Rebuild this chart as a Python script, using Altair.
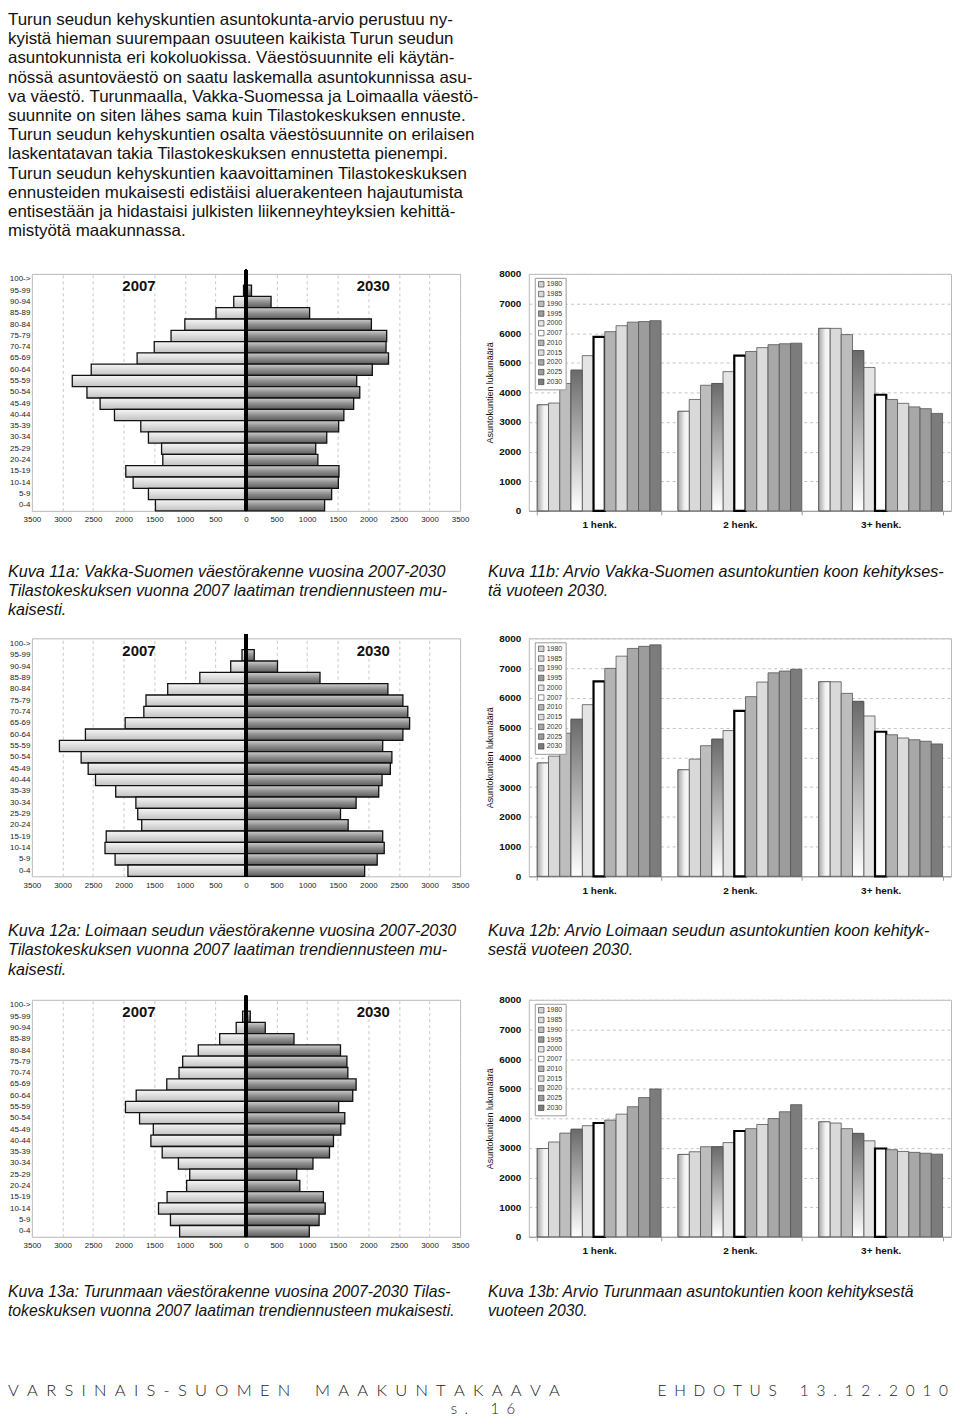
import altair as alt
import pandas as pd

# ---------------- data ----------------
ages = ["100->", "95-99", "90-94", "85-89", "80-84", "75-79", "70-74", "65-69",
        "60-64", "55-59", "50-54", "45-49", "40-44", "35-39", "30-34", "25-29",
        "20-24", "15-19", "10-14", "5-9", "0-4"]

vakka_2007 = [10, 40, 200, 490, 1000, 1225, 1500, 1780, 2530, 2840, 2600, 2385,
              2150, 1720, 1595, 1380, 1360, 1965, 1845, 1595, 1480]
vakka_2030 = [10, 90, 410, 1040, 2050, 2300, 2290, 2330, 2065, 1810, 1860, 1760,
              1600, 1515, 1320, 1140, 1175, 1520, 1510, 1400, 1285]

loimaa_2007 = [10, 65, 250, 755, 1280, 1635, 1670, 1975, 2625, 3050, 2695, 2580,
               2460, 2130, 1800, 1770, 1705, 2285, 2305, 2140, 1930]
loimaa_2030 = [10, 135, 515, 1210, 2320, 2565, 2645, 2675, 2565, 2235, 2385, 2360,
               2225, 2170, 1800, 1545, 1670, 2235, 2260, 2145, 1940]

turunmaa_2007 = [10, 55, 160, 430, 780, 1035, 1095, 1295, 1795, 1970, 1740, 1515,
                 1555, 1370, 1105, 920, 970, 1290, 1430, 1235, 1085]
turunmaa_2030 = [10, 70, 315, 785, 1545, 1650, 1665, 1800, 1745, 1515, 1615, 1550,
                 1430, 1365, 1095, 830, 880, 1265, 1295, 1195, 1035]

years = ["1980", "1985", "1990", "1995", "2000", "2007", "2010", "2015", "2020", "2025", "2030"]
sizes = ["1 henk.", "2 henk.", "3+ henk."]

vakka_1 = [3580, 3640, 4300, 4750, 5240, 5870, 6050, 6250, 6370, 6390, 6420]
vakka_2 = [3360, 3760, 4240, 4300, 4700, 5240, 5380, 5510, 5610, 5640, 5660]
vakka_3 = [6160, 6160, 5950, 5410, 4840, 3920, 3760, 3630, 3510, 3450, 3290]

loimaa_1 = [3810, 4040, 4810, 5280, 5770, 6550, 6990, 7400, 7660, 7730, 7780]
loimaa_2 = [3580, 3940, 4390, 4610, 4900, 5560, 6040, 6530, 6840, 6900, 6960]
loimaa_3 = [6540, 6540, 6150, 5880, 5390, 4860, 4760, 4650, 4590, 4540, 4450]

turunmaa_1 = [2980, 3200, 3500, 3630, 3750, 3840, 3940, 4140, 4390, 4700, 4990]
turunmaa_2 = [2780, 2870, 3040, 3040, 3180, 3570, 3650, 3790, 3990, 4220, 4460]
turunmaa_3 = [3880, 3840, 3650, 3490, 3240, 2980, 2940, 2880, 2850, 2820, 2790]

year_colors = ["#d2d2d2", "#d9d9d9", "#bdbdbd", "#9a9a9a", "#e4e4e4", "#ffffff",
               "#b3b3b3", "#dcdcdc", "#a8a8a8", "#9c9c9c", "#7c7c7c"]

paragraph = [
    "Turun seudun kehyskuntien asuntokunta-arvio perustuu ny-",
    "kyistä hieman suurempaan osuuteen kaikista Turun seudun",
    "asuntokunnista eri kokoluokissa. Väestösuunnite eli käytän-",
    "nössä asuntoväestö on saatu laskemalla asuntokunnissa asu-",
    "va väestö. Turunmaalla, Vakka-Suomessa ja Loimaalla väestö-",
    "suunnite on siten lähes sama kuin Tilastokeskuksen ennuste.",
    "Turun seudun kehyskuntien osalta väestösuunnite on erilaisen",
    "laskentatavan takia Tilastokeskuksen ennustetta pienempi.",
    "Turun seudun kehyskuntien kaavoittaminen Tilastokeskuksen",
    "ennusteiden mukaisesti edistäisi aluerakenteen hajautumista",
    "entisestään ja hidastaisi julkisten liikenneyhteyksien kehittä-",
    "mistyötä maakunnassa.",
]
cap11a = ["Kuva 11a: Vakka-Suomen väestörakenne vuosina 2007-2030",
          "Tilastokeskuksen vuonna 2007 laatiman trendiennusteen mu-",
          "kaisesti."]
cap11b = ["Kuva 11b: Arvio Vakka-Suomen asuntokuntien koon kehitykses-",
          "tä vuoteen 2030."]
cap12a = ["Kuva 12a: Loimaan seudun väestörakenne vuosina 2007-2030",
          "Tilastokeskuksen vuonna 2007 laatiman trendiennusteen mu-",
          "kaisesti."]
cap12b = ["Kuva 12b: Arvio Loimaan seudun asuntokuntien koon kehityk-",
          "sestä vuoteen 2030."]
cap13a = ["Kuva 13a: Turunmaan väestörakenne vuosina 2007-2030 Tilas-",
          "tokeskuksen vuonna 2007 laatiman trendiennusteen mukaisesti."]
cap13b = ["Kuva 13b: Arvio Turunmaan asuntokuntien koon kehityksestä",
          "vuoteen 2030."]
SP = "\u2002"
GAPW = "\u2003\u2003"
footer_left = [SP.join("VARSINAIS-SUOMEN") + GAPW + SP.join("MAAKUNTAKAAVA")]
footer_right = [SP.join("EHDOTUS") + GAPW + SP.join("13.12.2010")]
footer_page = [SP.join("s.") + GAPW + SP.join("16")]

# ---------------- style ----------------
FONT = "Liberation Sans, Arial, sans-serif"
FOOT = "Lato, Gill Sans, sans-serif"

LEFT_X = -24
W_PYR = 430
W_BAR = 424
GAP = 69
CAP_X_B = -41
FRAME = alt.ViewBackground(stroke="#b8b8b8", strokeWidth=1)
NOFRAME = alt.ViewBackground(strokeOpacity=0, fillOpacity=0)


def grad_v(stops):
    return alt.LinearGradient(
        gradient="linear", x1=0, x2=0, y1=0, y2=1,
        stops=[alt.GradientStop(color=c, offset=o) for o, c in stops])


def grad_h(stops):
    return alt.LinearGradient(
        gradient="linear", x1=0, x2=1, y1=0, y2=0,
        stops=[alt.GradientStop(color=c, offset=o) for o, c in stops])


G07 = grad_v([(0, "#f6f6f6"), (1, "#c2c2c2")])
G30 = grad_v([(0, "#cfcfcf"), (0.5, "#8e8e8e"), (1, "#5c5c5c")])
G1980 = grad_h([(0, "#a6a6a6"), (0.6, "#f2f2f2"), (1, "#f8f8f8")])
G1995 = grad_v([(0, "#6a6a6a"), (1, "#ffffff")])


def pyramid(v07, v30, h, tx07=-1750, tx30=2080):
    df07 = pd.DataFrame({"age": ages, "value": [-v for v in v07]})
    df30 = pd.DataFrame({"age": ages, "value": v30})
    dft = pd.DataFrame({"age": [ages[0], ages[0]], "value": [tx07, tx30],
                        "label": ["2007", "2030"]})
    x_axis = alt.Axis(title=None, values=list(range(-3500, 3501, 500)), tickCount=30,
                      labelExpr="'' + abs(datum.value)", grid=True, gridDash=[3, 3],
                      gridColor="#c8c8c8", ticks=False, domain=False,
                      labelFont=FONT, labelFontSize=8, labelColor="#222",
                      labelPadding=5, labelFlush=False, labelOverlap=False)
    x_enc = alt.X("value:Q", scale=alt.Scale(domain=[-3500, 3500], nice=False, zero=False),
                  axis=x_axis)
    y_enc = alt.Y("age:N", scale=alt.Scale(domain=ages, paddingInner=0, paddingOuter=0),
                  axis=alt.Axis(title=None, ticks=False, domain=False, labelFont=FONT,
                                labelFontSize=8, labelColor="#222", labelPadding=2))
    left = alt.Chart(df07).mark_bar(color=G07, stroke="#111", strokeWidth=1.3).encode(x=x_enc, y=y_enc)
    right = alt.Chart(df30).mark_bar(color=G30, stroke="#111", strokeWidth=1.3).encode(x=x_enc, y=y_enc)
    zero = alt.Chart(df30).mark_rule(color="#000", strokeWidth=2.5).encode(
        x=alt.datum(0), y=alt.value(-4), y2=alt.value(h))
    titles = alt.Chart(dft).mark_text(font=FONT, fontSize=15, fontWeight="bold",
                                      dy=7, color="#111").encode(
        x=x_enc, y=y_enc, text="label:N")
    return alt.layer(left, right, titles, zero).properties(width=W_PYR, height=h, view=FRAME)


def household(v1, v2, v3, h):
    rows = []
    for s, vals in zip(sizes, [v1, v2, v3]):
        for y, v in zip(years, vals):
            rows.append({"size": s, "year": y, "value": v})
    df = pd.DataFrame(rows)
    x_enc = alt.X("size:N", scale=alt.Scale(domain=sizes, paddingInner=0.12, paddingOuter=0.06),
                  axis=alt.Axis(title=None, labelAngle=0, labelFontWeight="bold",
                                labelFontSize=10, labelFont=FONT, labelColor="#111",
                                tickBand="extent", tickSize=4, tickColor="#999",
                                domainColor="#999", labelPadding=5))
    xo_enc = alt.XOffset("year:N", scale=alt.Scale(domain=years, paddingInner=0, paddingOuter=0))
    y_enc = alt.Y("value:Q", scale=alt.Scale(domain=[0, 8000], nice=False),
                  axis=alt.Axis(title="Asuntokuntien lukumäärä", values=list(range(0, 8001, 1000)),
                                format="d", tickCount=20,
                                grid=True, gridDash=[3, 3], gridColor="#c4c4c4",
                                labelFontWeight="bold", labelFontSize=10, labelFont=FONT,
                                labelColor="#111", titleFont=FONT, titleFontSize=9,
                                titleFontWeight="normal", titleColor="#111", titlePadding=4,
                                domain=False, ticks=False, labelPadding=8, labelFlush=False))
    bars = alt.Chart(df).mark_bar().encode(
        x=x_enc, xOffset=xo_enc, y=y_enc,
        fill=alt.Fill("year:N", scale=alt.Scale(domain=years, range=year_colors),
                      legend=alt.Legend(title=None, orient="none", legendX=6, legendY=4,
                                        labelFontSize=7, labelFont=FONT, labelColor="#333",
                                        symbolType="square", symbolSize=30,
                                        symbolStrokeColor="#333", symbolStrokeWidth=0.6,
                                        rowPadding=0.8, padding=3, strokeColor="#999",
                                        fillColor="white", labelOffset=2)),
        stroke=alt.condition("datum.year == '2007'", alt.value("#000"), alt.value("#555")),
        strokeWidth=alt.condition("datum.year == '2007'", alt.value(2.2), alt.value(0.8)),
    )
    g80 = alt.Chart(df).transform_filter("datum.year == '1980'").mark_bar(
        color=G1980, stroke="#555", strokeWidth=0.8).encode(x=x_enc, xOffset=xo_enc, y=y_enc)
    g95 = alt.Chart(df).transform_filter("datum.year == '1995'").mark_bar(
        color=G1995, stroke="#555", strokeWidth=0.8).encode(x=x_enc, xOffset=xo_enc, y=y_enc)
    return alt.layer(bars, g80, g95).properties(width=W_BAR, height=h, view=FRAME)


def text_layer(lines, x, y0, step, size, font=FONT, style="normal", weight="normal",
               align="left", color="#111"):
    df = pd.DataFrame({"row": list(range(len(lines))), "t": lines})
    return alt.Chart(df).mark_text(align=align, baseline="middle", font=font, fontSize=size,
                                   fontStyle=style, fontWeight=weight, color=color).encode(
        x=alt.value(x),
        y=alt.Y("row:Q", scale=alt.Scale(domain=[0, 1], range=[y0, y0 + step], nice=False,
                                          zero=False), axis=None),
        text="t:N")


def text_block(layers, w, h):
    return alt.layer(*layers).resolve_scale(y="independent").properties(
        width=w, height=h, view=NOFRAME)


cells = [
    text_block([text_layer(paragraph, LEFT_X, 9, 19.3, 17)], W_PYR, 264),
    text_block([text_layer([""], 0, 9, 19.3, 16)], W_BAR, 264),

    pyramid(vakka_2007, vakka_2030, 238),
    household(vakka_1, vakka_2, vakka_3, 238),
    text_block([text_layer(cap11a, LEFT_X, 61, 19.5, 16.2, style="italic")], W_PYR, 128),
    text_block([text_layer(cap11b, CAP_X_B, 61, 19.5, 16.2, style="italic")], W_BAR, 128),

    pyramid(loimaa_2007, loimaa_2030, 239),
    household(loimaa_1, loimaa_2, loimaa_3, 239),
    text_block([text_layer(cap12a, LEFT_X, 55, 19.5, 16.2, style="italic")], W_PYR, 124),
    text_block([text_layer(cap12b, CAP_X_B, 55, 19.5, 16.2, style="italic")], W_BAR, 124),

    pyramid(turunmaa_2007, turunmaa_2030, 238),
    household(turunmaa_1, turunmaa_2, turunmaa_3, 238),
    text_block([text_layer(cap13a, LEFT_X, 55, 20, 15.8, style="italic"),
                text_layer(footer_left, LEFT_X, 155, 20, 16.6, FOOT, weight=300, color="#222"),
                text_layer(footer_page, 453, 173, 20, 15, FOOT, weight=300,
                           align="center", color="#222")], W_PYR, 176),
    text_block([text_layer(cap13b, CAP_X_B, 55, 20, 15.8, style="italic"),
                text_layer(footer_right, W_BAR - 3, 155, 20, 15.5, FOOT, weight=300,
                           align="right", color="#222")], W_BAR, 176),
]

chart = alt.concat(*cells, columns=2, spacing={"row": 0, "column": GAP},
                   bounds="flush", align="each").resolve_scale(
    x="independent", y="independent", fill="independent").resolve_legend(
    fill="independent").properties(padding=0).configure_view(stroke=None).configure_axis(
    labelOverlap=False).configure(background="white")

chart.save("out.html", embed_options={"renderer": "svg", "actions": False})
